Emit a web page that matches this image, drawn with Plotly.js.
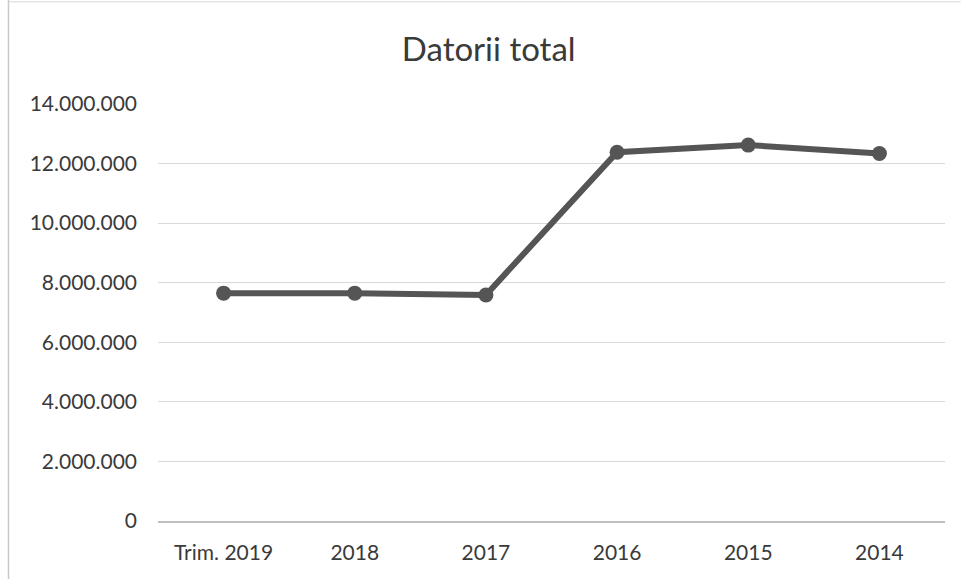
<!DOCTYPE html>
<html>
<head>
<meta charset="utf-8">
<script src="https://cdn.plot.ly/plotly-3.0.1.min.js"></script>
<style>html,body{margin:0;padding:0;background:#fff;}#chart{width:962px;height:579px;}</style>
</head>
<body>
<div id="chart"></div>
<script>
const categories = ["Trim. 2019", "2018", "2017", "2016", "2015", "2014"];
const datoriiTotal = [7650000, 7650000, 7590000, 12380000, 12620000, 12340000];
const yTickValues = [0, 2000000, 4000000, 6000000, 8000000, 10000000, 12000000, 14000000];

const trace = {
  x: categories,
  y: datoriiTotal,
  type: "scatter",
  mode: "lines+markers",
  line: {color: "#555555", width: 6},
  marker: {color: "#555555", size: 15},
  hoverinfo: "skip"
};

const layout = {
  width: 962, height: 579,
  margin: {l: 158, r: 17, t: 104, b: 58},
  paper_bgcolor: "#ffffff",
  plot_bgcolor: "#ffffff",
  separators: ",.",
  showlegend: false,
  title: {
    text: "Datorii total",
    font: {family: "Lato, 'Open Sans', sans-serif", size: 33, color: "#3a3a3a"},
    x: 0.508, xanchor: "center", y: 0.915, yanchor: "middle"
  },
  xaxis: {
    type: "category",
    range: [-0.5, 5.5],
    showgrid: false,
    showline: true, linecolor: "#bfbfbf", linewidth: 1.5,
    ticks: "",
    ticklabelstandoff: 12,
    tickfont: {family: "Lato, 'Open Sans', sans-serif", size: 21, color: "#3a3a3a"},
    fixedrange: true
  },
  yaxis: {
    range: [0, 14000000],
    tickvals: yTickValues,
    tickformat: ",d",
    showgrid: true, gridcolor: "#d9d9d9", gridwidth: 1,
    zeroline: false,
    showline: false,
    ticks: "",
    ticklabelstandoff: 20,
    tickfont: {family: "Lato, 'Open Sans', sans-serif", size: 21, color: "#3a3a3a"},
    fixedrange: true
  },
  shapes: [
    {type: "line", xref: "paper", yref: "paper", x0: -0.190, x1: -0.190, y0: -0.14, y1: 1.25,
     line: {color: "#c8c8c8", width: 1.5}},
    {type: "line", xref: "paper", yref: "paper", x0: -0.190, x1: 1.02, y0: 1.245, y1: 1.245,
     line: {color: "#d8d8d8", width: 1}}
  ]
};

Plotly.newPlot("chart", [trace], layout, {displayModeBar: false, staticPlot: true});
</script>
</body>
</html>
